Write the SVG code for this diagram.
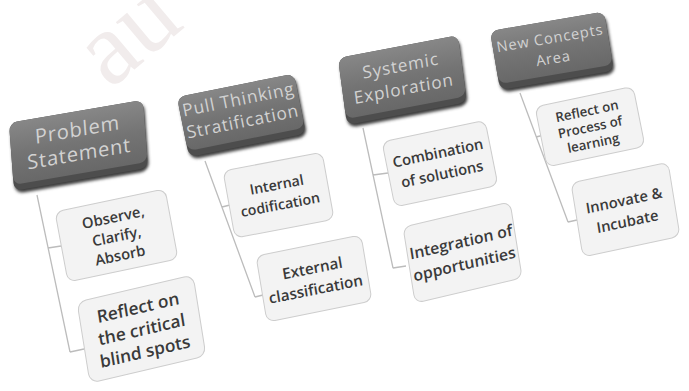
<svg xmlns="http://www.w3.org/2000/svg" width="689" height="391" viewBox="0 0 689 391">
<defs>
<linearGradient id="hg" x1="0" y1="0" x2="0" y2="1">
<stop offset="0" stop-color="#878787"/>
<stop offset="0.5" stop-color="#747474"/>
<stop offset="1" stop-color="#686868"/>
</linearGradient>
<filter id="sh" x="-10%" y="-10%" width="120%" height="130%"><feGaussianBlur stdDeviation="1.6"/></filter>
<style>
.hs{fill:#3c3c3c;filter:url(#sh)}
.hb{fill:#4d4d4d}
.hf{fill:url(#hg)}
.ht{font-family:"Open Sans","Liberation Sans",sans-serif;fill:#d2d2d2;text-anchor:middle;letter-spacing:0.8px}
.bx{fill:#f3f3f3;stroke:#cdcdcd;stroke-width:1}
.bt{font-family:"Open Sans","Liberation Sans",sans-serif;font-weight:600;fill:#3a3a3a;text-anchor:middle}
.cn{stroke:#bcbcbc;stroke-width:1.3;fill:none}
</style>
</defs>
<rect width="689" height="391" fill="#ffffff"/>
<text x="110" y="90" transform="rotate(-40 110 90)" font-family="Liberation Serif,serif" font-size="105" fill="#f1ecec">au</text>

<g id="connectors">
<path class="cn" d="M37,195 L70,352 M48,248 L61,246 M70,352 L84,349"/>
<path class="cn" d="M205,161 L255,297 M222,207 L230,205 M255,297 L263,295"/>
<path class="cn" d="M363,128 L393,268 M373,175 L388,173 M393,268 L406,266"/>
<path class="cn" d="M520,93 L568,222 M536,137 L544,135 M568,222 L577,220"/>
</g>

<g id="problem-statement" transform="matrix(1,-0.172,0.074,1,9,123)">
<rect class="hs" x="1" y="3" width="134" height="68" rx="8"/>
<rect class="hb" x="0" y="0" width="134" height="68" rx="8"/>
<rect class="hf" x="0" y="0" width="134" height="62" rx="8"/>
<text class="ht" x="67" y="25" font-size="20">Problem</text>
<text class="ht" x="67" y="49" font-size="20">Statement</text>
</g>

<g id="pull-thinking" transform="matrix(1,-0.2,0.2,1,177,97)">
<rect class="hs" x="1" y="3" width="117" height="60" rx="8"/>
<rect class="hb" x="0" y="0" width="117" height="60" rx="8"/>
<rect class="hf" x="0" y="0" width="117" height="54" rx="8"/>
<text class="ht" x="58.5" y="20" font-size="17" letter-spacing="0.3">Pull Thinking</text>
<text class="ht" x="58.5" y="42" font-size="17" letter-spacing="0.3">Stratification</text>
</g>

<g id="systemic-exploration" transform="matrix(1,-0.19,0.134,1,338,58)">
<rect class="hs" x="1" y="3" width="120" height="67" rx="8"/>
<rect class="hb" x="0" y="0" width="120" height="67" rx="8"/>
<rect class="hf" x="0" y="0" width="120" height="61" rx="8"/>
<text class="ht" x="60" y="25" font-size="17" fill="#c6c6c6">Systemic</text>
<text class="ht" x="60" y="48" font-size="17" fill="#c6c6c6">Exploration</text>
</g>

<g id="new-concepts" transform="matrix(1,-0.17,0.17,1,490,31)">
<rect class="hs" x="1" y="3" width="114" height="59" rx="8"/>
<rect class="hb" x="0" y="0" width="114" height="59" rx="8"/>
<rect class="hf" x="0" y="0" width="114" height="53" rx="8"/>
<text class="ht" x="57" y="22" font-size="14.5" letter-spacing="0.2">New Concepts</text>
<text class="ht" x="57" y="42" font-size="14.5" letter-spacing="0.2">Area</text>
</g>

<g id="observe" transform="matrix(1,-0.21,0.186,1,55,212)">
<rect class="bx" x="0" y="0" width="110" height="70" rx="8"/>
<text class="bt" x="55" y="22" font-size="14.5">Observe,</text>
<text class="bt" x="55" y="41" font-size="14.5">Clarify,</text>
<text class="bt" x="55" y="60" font-size="14.5">Absorb</text>
</g>

<g id="reflect-critical" transform="matrix(1,-0.233,0.16,1,77,302)">
<rect class="bx" x="0" y="0" width="116" height="81" rx="9"/>
<text class="bt" x="58" y="25" font-size="17">Reflect on</text>
<text class="bt" x="58" y="47" font-size="17">the critical</text>
<text class="bt" x="58" y="69" font-size="17">blind spots</text>
</g>

<g id="internal" transform="matrix(1,-0.19,0.18,1,223,171)">
<rect class="bx" x="0" y="0" width="99" height="67" rx="8"/>
<text class="bt" x="49.5" y="28" font-size="14">Internal</text>
<text class="bt" x="49.5" y="48" font-size="14">codification</text>
</g>

<g id="external" transform="matrix(1,-0.2,0.167,1,256,256)">
<rect class="bx" x="0" y="0" width="105" height="66" rx="8"/>
<text class="bt" x="52.5" y="28" font-size="15">External</text>
<text class="bt" x="52.5" y="49" font-size="15">classification</text>
</g>

<g id="combination" transform="matrix(1,-0.21,0.2,1,382,142)">
<rect class="bx" x="0" y="0" width="103" height="65" rx="8"/>
<text class="bt" x="51.5" y="27" font-size="14.5">Combination</text>
<text class="bt" x="51.5" y="48" font-size="14.5">of solutions</text>
</g>

<g id="integration" transform="matrix(1,-0.234,0.16,1,403,227)">
<rect class="bx" x="0" y="0" width="107" height="76" rx="8"/>
<text class="bt" x="53.5" y="33" font-size="15.5">Integration of</text>
<text class="bt" x="53.5" y="55" font-size="15.5">opportunities</text>
</g>

<g id="reflect-process" transform="matrix(1,-0.21,0.2,1,535,107)">
<rect class="bx" x="0" y="0" width="98" height="60" rx="8"/>
<text class="bt" x="49" y="19" font-size="13">Reflect on</text>
<text class="bt" x="49" y="35" font-size="13">Process of</text>
<text class="bt" x="49" y="51" font-size="13">learning</text>
</g>

<g id="innovate" transform="matrix(1,-0.214,0.162,1,571,183)">
<rect class="bx" x="0" y="0" width="97" height="74" rx="8"/>
<text class="bt" x="48.5" y="33" font-size="14.5">Innovate &amp;</text>
<text class="bt" x="48.5" y="54" font-size="14.5">Incubate</text>
</g>
</svg>
